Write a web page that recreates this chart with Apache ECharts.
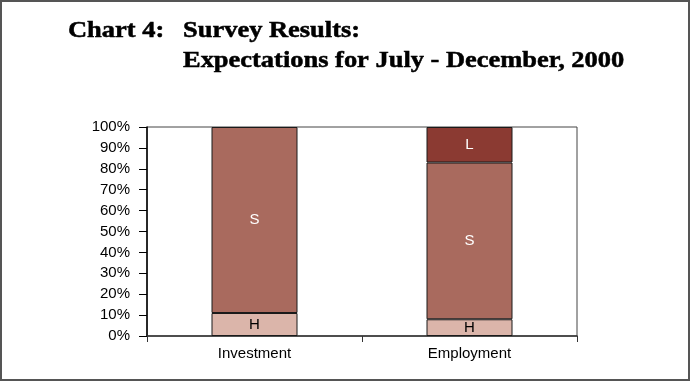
<!DOCTYPE html>
<html>
<head>
<meta charset="utf-8">
<script src="https://cdn.jsdelivr.net/npm/echarts@6/dist/echarts.min.js"></script>
<style>
html,body{margin:0;padding:0;background:#fff;}
#chart{width:692px;height:382px;}
</style>
</head>
<body>
<div id="chart"></div>
<script>
const categories = ['Investment', 'Employment'];
const seriesNames = ['H', 'S', 'L'];
const valuesH = [11, 8];
const valuesS = [89, 75];
const valuesL = [null, 17];
const yTicks = [0, 10, 20, 30, 40, 50, 60, 70, 80, 90, 100];
const titleLine1a = 'Chart 4:';
const titleLine1b = 'Survey Results:';
const titleLine2 = 'Expectations for July - December, 2000';

const colors = { H: '#dbb5aa', S: '#a96a5e', L: '#8b3a32' };
const labelColors = { H: '#000', S: '#fff', L: '#fff' };
const dataMap = { H: valuesH, S: valuesS, L: valuesL };

const chart = echarts.init(document.getElementById('chart'), null, { renderer: 'canvas' });

const titleFont = 'bold 23px "Liberation Serif", "Times New Roman", serif';
const titleStyle = { x: 0, y: 0, font: titleFont, fill: '#000', stroke: '#000', lineWidth: 0.5, verticalAlign: 'middle' };

const option = {
  animation: false,
  backgroundColor: '#fff',
  graphic: [
    { type: 'rect', shape: { x: 1, y: 1, width: 688, height: 379 }, style: { fill: 'none', stroke: '#555', lineWidth: 2 }, silent: true },
    { type: 'text', x: 68, y: 31, scaleX: 1.15, style: Object.assign({ text: titleLine1a }, titleStyle) },
    { type: 'text', x: 183, y: 31, scaleX: 1.15, style: Object.assign({ text: titleLine1b }, titleStyle) },
    { type: 'text', x: 183, y: 61, scaleX: 1.15, style: Object.assign({ text: titleLine2 }, titleStyle) }
  ],
  grid: {
    left: 147, right: 115, top: 127, bottom: 46,
    show: true, borderColor: '#444', borderWidth: 1, backgroundColor: '#fff'
  },
  xAxis: {
    type: 'category',
    data: categories,
    boundaryGap: true,
    axisLine: { lineStyle: { color: '#333', width: 1.5 } },
    axisTick: { show: true, length: 6, lineStyle: { color: '#333' } },
    axisLabel: { color: '#000', fontSize: 15, fontFamily: '"Liberation Sans", Arial, sans-serif', margin: 10 }
  },
  yAxis: {
    type: 'value',
    min: 0, max: 100, interval: 10,
    axisLine: { show: true, lineStyle: { color: '#000', width: 1.5 } },
    axisTick: { show: true, length: 8, lineStyle: { color: '#000' } },
    splitLine: { show: false },
    axisLabel: {
      color: '#000', fontSize: 15, fontFamily: '"Liberation Sans", Arial, sans-serif', margin: 17,
      formatter: v => yTicks.indexOf(v) >= 0 ? v + '%' : ''
    }
  },
  series: seriesNames.map(name => ({
    name: name,
    type: 'bar',
    stack: 'total',
    barWidth: '40%',
    data: dataMap[name],
    itemStyle: { color: colors[name], borderColor: '#1a1a1a', borderWidth: 1 },
    label: {
      show: true, position: 'inside', formatter: name,
      color: labelColors[name], fontSize: 15, fontFamily: '"Liberation Sans", Arial, sans-serif'
    }
  }))
};
chart.setOption(option);
</script>
</body>
</html>
